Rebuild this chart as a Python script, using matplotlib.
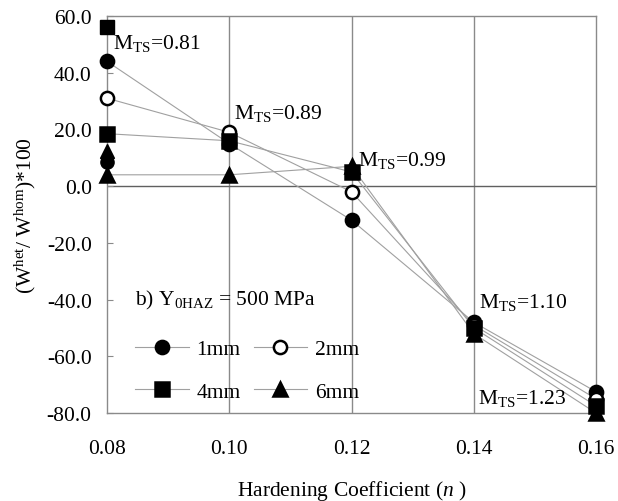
import matplotlib
matplotlib.use("Agg")
import matplotlib.pyplot as plt
from matplotlib.lines import Line2D
import numpy as np

plt.rcParams['font.family'] = ['Liberation Serif', 'DejaVu Serif']
plt.rcParams['mathtext.fontset'] = 'custom'
plt.rcParams['mathtext.rm'] = 'Liberation Serif'
plt.rcParams['mathtext.it'] = 'Liberation Serif:italic'

n = [0.08, 0.10, 0.12, 0.14, 0.16]
ratio_1mm = [44.0, 15.0, -12.0, -48.0, -72.5]
ratio_2mm = [31.0, 19.0, -2.0, -49.0, -75.0]
ratio_4mm = [18.5, 16.0, 5.0, -50.0, -77.5]
ratio_6mm = [4.0, 4.0, 7.0, -52.0, -80.0]

# loose points at n = 0.08 (no connecting line)
extra_square = [56.0]
extra_triangle = [12.5]
extra_circle = [8.5]

mts_labels = ['0.81', '0.89', '0.99', '1.10', '1.23']
mts_x = [0.081, 0.1008, 0.121, 0.1408, 0.1407]
mts_y = [50.8, 26.1, 9.5, -40.6, -74.4]

fs = 15.5
grey = '#8a8a8a'
line_grey = '#a0a0a0'

fig = plt.figure(figsize=(6.18, 5.02), dpi=100)
ax = fig.add_axes([107/618, 1-414/502, (596-107)/618, (414-17)/502])

series = [(ratio_1mm, 'o', 'black', '1mm'),
          (ratio_2mm, 'o', 'white', '2mm'),
          (ratio_4mm, 's', 'black', '4mm'),
          (ratio_6mm, '^', 'black', '6mm')]

for vals, mk, fc, lab in series:
    ax.plot(n, vals, '-', color=line_grey, lw=0.8, zorder=2)
    ax.plot(n, vals, mk, ls='none', mfc=fc, mec='black', mew=1.8,
            ms=9.5 if mk != '^' else 10.5, zorder=4, clip_on=False)

ax.plot([n[0]], extra_square, 's', color='black', ms=9.5, zorder=4, clip_on=False)
ax.plot([n[0]], extra_triangle, '^', color='black', ms=10.5, zorder=4, clip_on=False)
ax.plot([n[0]], extra_circle, 'o', color='black', ms=9.5, zorder=4, clip_on=False)

ax.set_xlim(0.08, 0.16)
ax.set_ylim(-80, 60)
ax.set_xticks(n)
ax.set_xticklabels(['%.2f' % v for v in n])
ax.set_yticks(np.arange(-80, 61, 20))
ax.set_yticklabels(['%.1f' % v for v in np.arange(-80, 61, 20)])

for v in n[1:-1]:
    ax.axvline(v, color=grey, lw=1.0, zorder=1)
ax.axhline(0, color='#606060', lw=1.0, zorder=1)

for s in ax.spines.values():
    s.set_color(grey)
    s.set_linewidth(1.0)

ax.tick_params(axis='y', direction='in', length=4, color=grey, pad=11, labelsize=fs)
ax.tick_params(axis='x', direction='in', length=0, pad=19, labelsize=fs)

for lab, x, y in zip(mts_labels, mts_x, mts_y):
    ax.text(x, y, r'M$_{\rm TS}$=' + lab, fontsize=fs, ha='left', va='center', zorder=5)

ax.text(135/618, 1-300/502, r'b) Y$_{\rm 0HAZ}$ = 500 MPa', fontsize=fs,
        transform=fig.transFigure, ha='left', va='center')

handles = {s[3]: Line2D([], [], color=line_grey, lw=0.8, marker=s[1], mfc=s[2],
                        mec='black', mew=1.8, ms=9.5 if s[1] != '^' else 10.5)
           for s in series}
order = ['1mm', '4mm', '2mm', '6mm']
ax.legend([handles[k] for k in order], order, ncol=2, loc='upper left', frameon=False,
          bbox_to_anchor=(135/618, 1-340/502), bbox_transform=fig.transFigure,
          fontsize=fs, handlelength=2.5, handletextpad=0.35, columnspacing=0.6,
          labelspacing=1.05, borderpad=0, borderaxespad=0)

ax.set_xlabel(r'Hardening Coefficient ($n$ )', fontsize=fs, labelpad=14)
ax.set_ylabel(r'(W$^{\rm het}$/ W$^{\rm hom}$)*100', fontsize=fs, labelpad=6)

fig.savefig('out.png', dpi=100)
